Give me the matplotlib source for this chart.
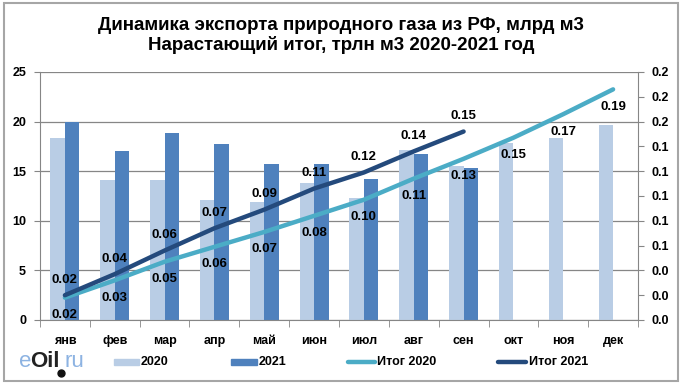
import numpy as np
import matplotlib.pyplot as plt
from matplotlib.patches import Rectangle
from matplotlib.lines import Line2D

plt.rcParams['font.family'] = ['Liberation Sans', 'DejaVu Sans']
plt.rcParams['font.weight'] = 'bold'

months = ['янв', 'фев', 'мар', 'апр', 'май', 'июн',
          'июл', 'авг', 'сен', 'окт', 'ноя', 'дек']
export_2020 = [18.3, 14.1, 14.1, 12.1, 11.9, 13.8, 12.3, 17.1, 15.5, 17.8, 18.3, 19.7]
export_2021 = [20.0, 17.0, 18.9, 17.7, 15.7, 15.7, 14.2, 16.7, 15.3]
total_2020 = [0.018, 0.032, 0.047, 0.059, 0.071, 0.084, 0.097, 0.114, 0.130, 0.147, 0.166, 0.186]
total_2021 = [0.020, 0.037, 0.056, 0.074, 0.089, 0.106, 0.119, 0.136, 0.152]

c2020 = '#B9CDE5'
c2021 = '#4F81BD'
cl2020 = '#4BACC6'
cl2021 = '#244A7C'
grid_c = '#868686'

fig = plt.figure(figsize=(6.82, 3.89), dpi=100)
W, H = 682, 389


def fx(px):
    return px / W


def fy(py):
    return 1 - py / H


# outer frame
fig.patches.append(Rectangle((fx(4), fy(381)), 674 / W, 378 / H, transform=fig.transFigure,
                             fill=False, edgecolor='#A6A6A6', lw=1.5))

ax = fig.add_axes([fx(40), fy(320), 598 / W, 248 / H])
x = np.arange(len(months))
bw = 0.29
ax.bar(x[:len(export_2020)] - bw / 2, export_2020, bw, color=c2020, zorder=2)
ax.bar(x[:len(export_2021)] + bw / 2, export_2021, bw, color=c2021, zorder=2)

ax.set_xlim(-0.5, 11.5)
ax.set_ylim(0, 25)
ax.set_yticks(range(0, 26, 5))
ax.yaxis.grid(True, color=grid_c, lw=0.9, zorder=0)
ax.set_axisbelow(True)
ax.set_xticks(x)
ax.set_xticklabels(months, fontsize=9, fontweight='bold')
ax.set_xticks(np.arange(-0.5, 12, 1), minor=True)
ax.tick_params(axis='x', which='major', length=0, pad=11)
ax.tick_params(axis='x', which='minor', length=5, color=grid_c)
ax.tick_params(axis='y', length=4, color=grid_c, labelsize=9, pad=6)
for lab in ax.get_yticklabels():
    lab.set_fontweight('bold')
for s in ['left', 'bottom']:
    ax.spines[s].set_color(grid_c)
ax.spines['top'].set_visible(False)
ax.spines['right'].set_visible(False)

ax2 = ax.twinx()
ax2.set_ylim(0, 0.2)
ax2.set_yticks(np.arange(0, 0.201, 0.02))
ax2.set_yticklabels(['%.1f' % v for v in np.arange(0, 0.201, 0.02)], fontsize=9, fontweight='bold')
ax2.tick_params(axis='y', length=4, color=grid_c, pad=6)
ax2.spines['right'].set_color(grid_c)
for s in ['left', 'top', 'bottom']:
    ax2.spines[s].set_visible(False)

ax2.plot(x[:len(total_2020)], total_2020, color=cl2020, lw=3.2, solid_capstyle='round', zorder=3)
ax2.plot(x[:len(total_2021)], total_2021, color=cl2021, lw=3.2, solid_capstyle='round', zorder=4)

for xi, v in zip(x, total_2020):
    ax2.annotate('%.2f' % v, (xi, v), xytext=(0, -12.5), textcoords='offset points',
                 ha='center', va='center', fontsize=9.5, fontweight='bold')
for xi, v in zip(x, total_2021):
    ax2.annotate('%.2f' % v, (xi, v), xytext=(0, 11), textcoords='offset points',
                 ha='center', va='center', fontsize=9.5, fontweight='bold')

fig.text(0.5, fy(30.5), 'Динамика экспорта природного газа из РФ, млрд м3',
         ha='center', va='baseline', fontsize=13.5, fontweight='bold')
fig.text(0.5, fy(50), 'Нарастающий итог, трлн м3 2020-2021 год',
         ha='center', va='baseline', fontsize=13.5, fontweight='bold')

# legend, drawn by hand
ly = fy(362)
fig.patches.append(Rectangle((fx(114), fy(365)), 25 / W, 6 / H, transform=fig.transFigure,
                             color=c2020))
fig.patches.append(Rectangle((fx(231), fy(365)), 26 / W, 6 / H, transform=fig.transFigure,
                             color=c2021))
fig.add_artist(Line2D([fx(348), fx(375)], [ly, ly], color=cl2020, lw=3.2,
                      solid_capstyle='round', transform=fig.transFigure))
fig.add_artist(Line2D([fx(498), fx(526)], [ly, ly], color=cl2021, lw=3.2,
                      solid_capstyle='round', transform=fig.transFigure))
for px, t in zip([141, 259, 377, 529], ['2020', '2021', 'Итог 2020', 'Итог 2021']):
    fig.text(fx(px), ly, t, ha='left', va='center', fontsize=9, fontweight='bold')

# logo
fig.text(fx(19), fy(367), 'e', color='#8DB3E2', fontsize=16, fontweight='normal', va='baseline')
fig.text(fx(30), fy(367), 'Oil', color='#222222', fontsize=16, fontweight='bold', va='baseline')
fig.text(fx(64), fy(367), 'ru', color='#8DB3E2', fontsize=16, fontweight='normal', va='baseline')
fig.add_artist(Line2D([fx(61)], [fy(373)], marker='o', markersize=5, color='#111111',
                      transform=fig.transFigure))

fig.savefig('out.png', dpi=100)
